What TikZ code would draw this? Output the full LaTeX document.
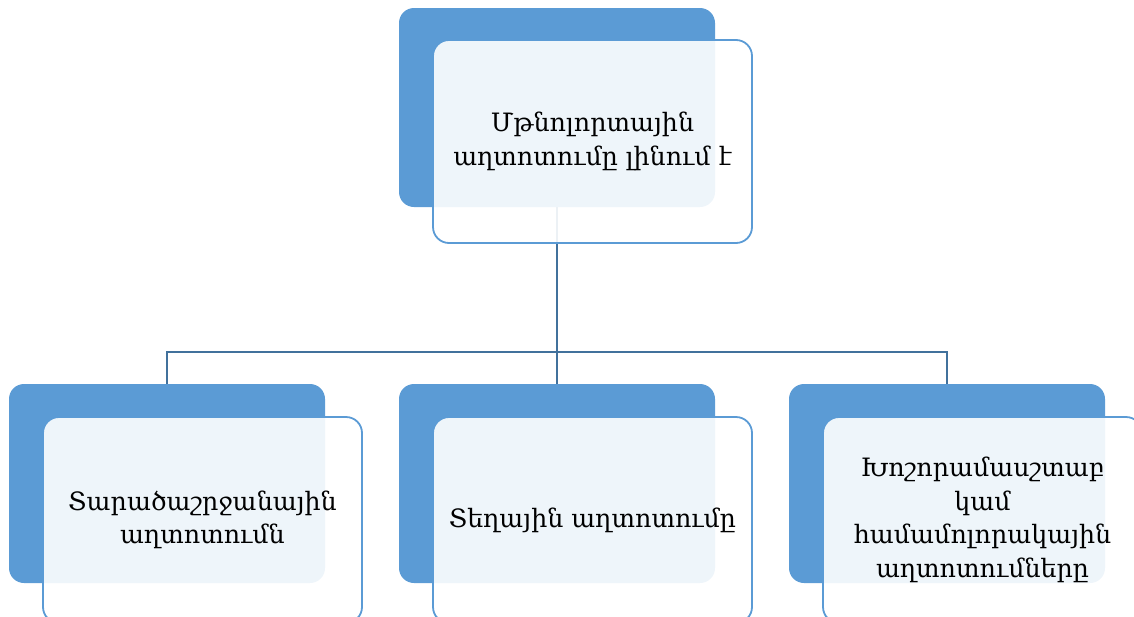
\documentclass[tikz,border=0pt]{standalone}
\usepackage{fontspec}
\setmainfont{DejaVu Serif}
\definecolor{darkbox}{HTML}{5B9BD5}
\definecolor{conn}{HTML}{41719C}
\begin{document}
\begin{tikzpicture}[x=1pt,y=-1pt,
  back/.style={fill=darkbox, rounded corners=15pt, minimum width=316pt, minimum height=199pt, inner sep=0pt},
  front/.style={draw=darkbox, line width=1.8pt, fill=white, fill opacity=0.9, text opacity=1, rounded corners=16pt, minimum width=319pt, inner sep=0pt, align=center, font=\fontsize{25.3}{33.5}\selectfont},
  link/.style={draw=conn, line width=1.6pt}]
\useasboundingbox (0,0) rectangle (1134,616);
\clip (0,0) rectangle (1134,616);
\node[back] (tb) at (557,107.5) {};
\node[back] (b1) at (167,483.5) {};
\node[back] (b2) at (557,483.5) {};
\node[back] (b3) at (947,483.5) {};
\coordinate (j) at (557,352);
\draw[link] (tb.south) -- (j);
\draw[link] (j) -| (b1.north);
\draw[link] (j) -- (b2.north);
\draw[link] (j) -| (b3.north);
\node[front, minimum height=203pt] (tf) at (592.5,141.5) {Մթնոլորտային\\աղտոտումը լինում է};
\node[front, minimum height=206pt] (f1) at (202.5,520) {Տարածաշրջանային\\աղտոտումն};
\node[front, minimum height=206pt] (f2) at (592.5,520) {Տեղային աղտոտումը};
\node[front, minimum height=206pt] (f3) at (982.5,520) {Խոշորամասշտաբ\\կամ\\համամոլորակային\\աղտոտումները};
\end{tikzpicture}
\end{document}
